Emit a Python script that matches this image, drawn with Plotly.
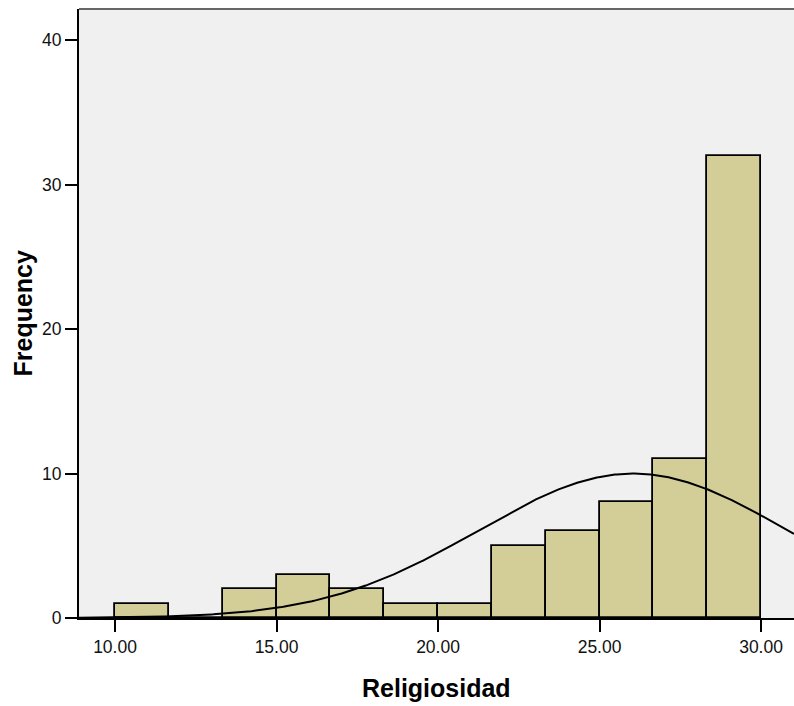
import numpy as np
import plotly.graph_objects as go

# Histogram data (Religiosidad)
bin_start = 10.0
bin_end = 30.0
n_bins = 12
counts = [1, 0, 2, 3, 2, 1, 1, 5, 6, 8, 11, 32]
x_ticks = [10, 15, 20, 25, 30]
x_tick_labels = ["10.00", "15.00", "20.00", "25.00", "30.00"]
y_ticks = [0, 10, 20, 30, 40]
# normal curve parameters
curve_mean = 26.04
curve_sd = 4.79

bw = (bin_end - bin_start) / n_bins
mids = [bin_start + bw * (i + 0.5) for i in range(n_bins)]
N = sum(counts)

x_range = [8.885, 31.02]
y_range = [0, 42.15]

fig = go.Figure()
fig.add_trace(go.Bar(
    x=mids, y=counts, width=[bw] * n_bins,
    marker=dict(color="#D3CE98", line=dict(color="black", width=1.8)),
    showlegend=False, hoverinfo="skip",
))

xs = np.linspace(x_range[0], x_range[1], 400)
ys = N * bw / (curve_sd * np.sqrt(2 * np.pi)) * np.exp(-0.5 * ((xs - curve_mean) / curve_sd) ** 2)
fig.add_trace(go.Scatter(x=xs, y=ys, mode="lines",
                         line=dict(color="black", width=2),
                         showlegend=False, hoverinfo="skip"))

font_family = "Arial, Liberation Sans, sans-serif"
fig.update_layout(
    width=794, height=706,
    margin=dict(l=79, r=0, t=9, b=88),
    paper_bgcolor="white", plot_bgcolor="#F0F0F0",
    bargap=0,
    font=dict(family=font_family, size=17.5, color="black"),
    xaxis=dict(range=x_range, tickvals=x_ticks, ticktext=x_tick_labels,
               ticks="outside", ticklen=12, tickwidth=2, tickcolor="black",
               showline=True, linecolor="black", linewidth=2,
               showgrid=False, zeroline=False,
               tickfont=dict(size=17.5, family=font_family, color="#111")),
    yaxis=dict(range=y_range, tickvals=y_ticks,
               ticks="outside", ticklen=12, tickwidth=2, tickcolor="black",
               showline=True, linecolor="black", linewidth=2,
               showgrid=False, zeroline=False,
               tickfont=dict(size=17.5, family=font_family, color="#111")),
    annotations=[
        dict(text="<b>Religiosidad</b>", x=0.5, y=0, xref="paper", yref="paper",
             showarrow=False, font=dict(size=25, family=font_family), yanchor="middle"),
        dict(text="<b>Frequency</b>", x=0, y=0.5, xref="paper", yref="paper",
             showarrow=False, textangle=-90, font=dict(size=25, family=font_family),
             xanchor="center"),
    ],
)
plot_w = 794 - 79
plot_h = 706 - 9 - 88
fig.layout.annotations[0].y = (618 - 688) / plot_h
fig.layout.annotations[1].x = (22 - 79) / plot_w

# top border line
fig.add_shape(type="line", xref="paper", yref="paper", x0=0, x1=1, y0=1, y1=1,
              line=dict(color="#666666", width=2))

fig.write_html("out.html")
